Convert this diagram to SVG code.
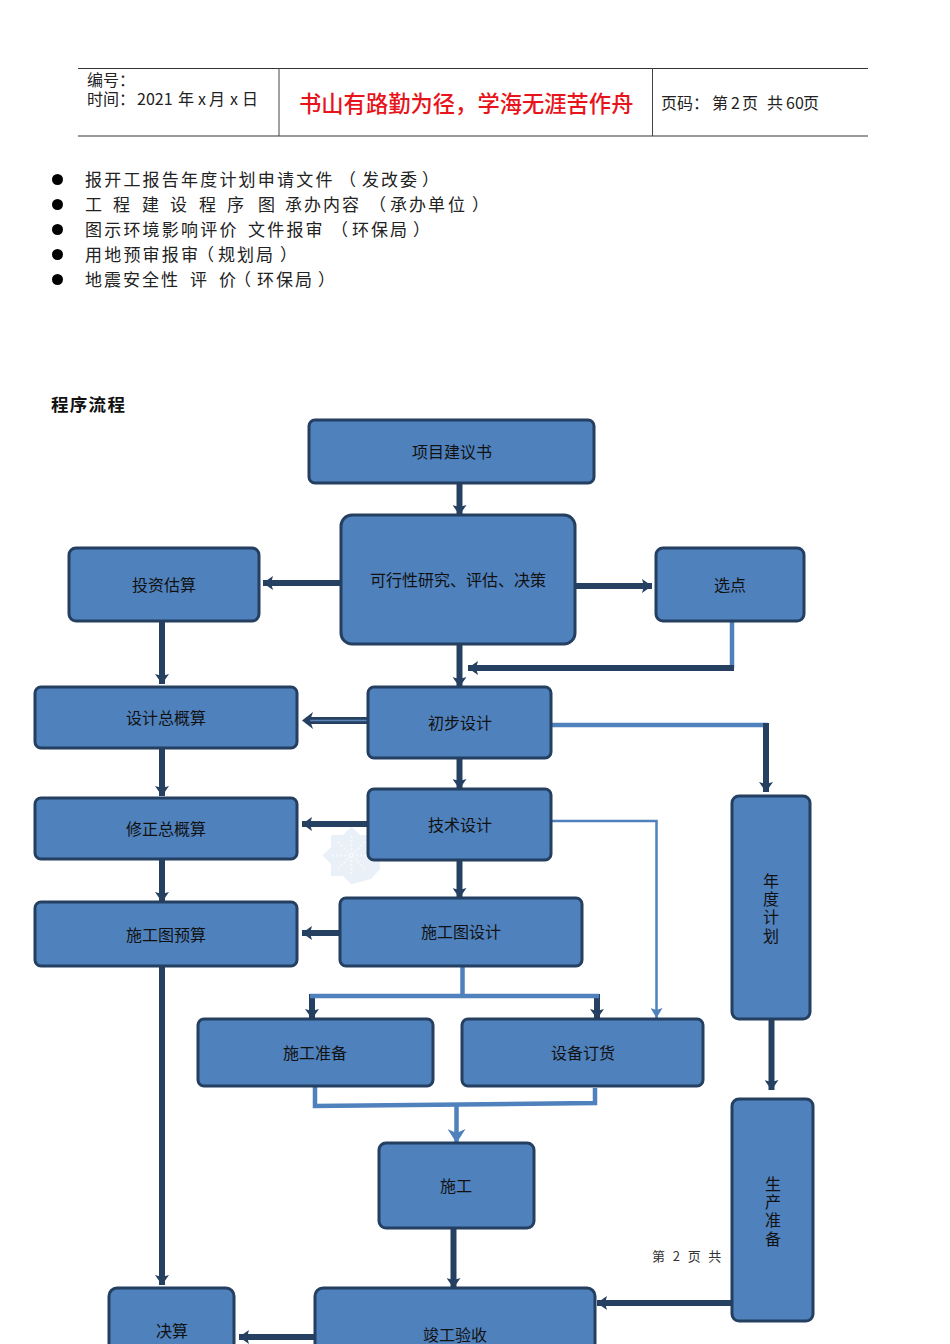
<svg xmlns="http://www.w3.org/2000/svg" width="950" height="1344" viewBox="0 0 950 1344">
<style>
text{font-family:"Noto Sans CJK SC","Liberation Sans",sans-serif;fill:#111}
.n{fill:#4f81bd;stroke:#243f60;stroke-width:3}
.l{font-size:16px;text-anchor:middle}
.b{font-size:17px;letter-spacing:2.2px;fill:#222}
.p{font-size:17px;fill:#222}
.h{font-size:16px;fill:#222}
.d{fill:none;stroke:#254061;stroke-width:6}
.u{fill:none;stroke:#4f81bd;stroke-width:4.500}
.t{fill:none;stroke:#4f81bd;stroke-width:2.500}
</style>
<defs>
<marker id="ad" markerUnits="userSpaceOnUse" markerWidth="12" markerHeight="14" refX="10" refY="7" orient="auto"><path d="M0 0L10 7L0 14L2 7Z" fill="#254061"/></marker>
<marker id="al" markerUnits="userSpaceOnUse" markerWidth="12" markerHeight="12" refX="10" refY="6" orient="auto"><path d="M0 0L10 6L0 12L2 6Z" fill="#4f81bd"/></marker>
<marker id="ab" markerUnits="userSpaceOnUse" markerWidth="16" markerHeight="18" refX="14" refY="9" orient="auto"><path d="M0 0L14 9L0 18L4 9Z" fill="#4f81bd"/></marker>
</defs>
<rect width="950" height="1344" fill="#fff"/>
<g id="header">
<path d="M78 68.500H868" stroke="#333" fill="none"/>
<path d="M78 136H868" stroke="#777" stroke-width="1.500" fill="none"/>
<path d="M279 68V136M652.500 68V136" stroke="#444" fill="none"/>
<text class="h"><tspan x="87" y="85.500">编号：</tspan><tspan x="87" y="104.500">时间：</tspan><tspan x="137" y="104.500">2021</tspan><tspan x="178" y="104.500">年</tspan><tspan x="198" y="104.500">x</tspan><tspan x="209" y="104.500">月</tspan><tspan x="230" y="104.500">x</tspan><tspan x="242" y="104.500">日</tspan></text>
<text x="299" y="112" font-size="22.300" font-weight="500" style="fill:#e8141c">书山有路勤为径，学海无涯苦作舟</text>
<text class="h" x="661" y="109">页码：</text><text class="h" x="712" y="109">第</text><text class="h" x="731" y="109" font-size="13">2</text><text class="h" x="742" y="109">页</text><text class="h" x="767" y="109">共</text><text class="h" x="786" y="109" font-size="13">60</text><text class="h" x="803" y="109">页</text>
</g>
<g id="bullets">
<circle cx="57.500" cy="179.500" r="5.500"/><circle cx="57.500" cy="204.500" r="5.500"/><circle cx="57.500" cy="229.500" r="5.500"/><circle cx="57.500" cy="254.500" r="5.500"/><circle cx="57.500" cy="279.500" r="5.500"/>
<text class="b" x="85" y="186">报开工报告年度计划申请文件</text><text class="p" x="339 362 381 400 422" y="186">（发改委）</text>
<text class="p" x="85 113 142 170 199 227 258 285 304 323 342 369 390 409 428 448 472" y="211">工程建设程序图承办内容（承办单位）</text>
<text class="b" x="85" y="236">图示环境影响评价</text><text class="b" x="248" y="236">文件报审</text><text class="p" x="331 352 371 390 413" y="236">（环保局）</text>
<text class="b" x="85" y="261">用地预审报审</text><text class="p" x="197 218 237 256 280" y="261">（规划局）</text>
<text class="p" x="85 104 123 142 161 190 219 234 257 276 295 318" y="286">地震安全性评价（环保局）</text>
<text x="51" y="411" font-size="17.500" font-weight="700" style="letter-spacing:1.300px">程序流程</text>
</g>
<g id="watermark"><g fill="#e9f0f7"><rect x="331" y="835" width="41" height="41"/><rect x="331" y="835" width="41" height="41" transform="rotate(45 351.500 855.500)"/><path d="M360 855H380V869L371 879L352 884L345 870Z"/></g><path d="M351.500 836V875M332 855.500H371M338 842L365 869M365 842L338 869" stroke="#f6f9fc" stroke-width="2" stroke-dasharray="2 2" fill="none"/></g>
<g id="connectors">
<path class="d" d="M459.500 483V515" marker-end="url(#ad)"/>
<path class="d" d="M340 583H263" marker-end="url(#ad)"/>
<path class="d" d="M576 586H652" marker-end="url(#ad)"/>
<path class="d" d="M162 622V684" marker-end="url(#ad)"/>
<path class="u" d="M732 622V668"/>
<path class="d" d="M734 668H468" marker-end="url(#ad)"/>
<path class="d" d="M459.500 644V687" marker-end="url(#ad)"/>
<path d="M368 720.500H306" stroke="#254061" stroke-width="7" fill="none"/><path d="M368 720.500H310" stroke="#5b85b8" stroke-width="1.500" fill="none"/>
<path d="M313 712L302 720.500L313 729L310 720.500Z" fill="#254061"/>
<path class="u" d="M552 725H768"/>
<path class="d" d="M766 723V792" marker-end="url(#ad)"/>
<path class="d" d="M459.500 758V789" marker-end="url(#ad)"/>
<path class="d" d="M162 748V796" marker-end="url(#ad)"/>
<path class="d" d="M368 824H302" marker-end="url(#ad)"/>
<path class="t" d="M552 821H656.500V1018" marker-end="url(#al)"/>
<path class="d" d="M459.500 860V898" marker-end="url(#ad)"/>
<path class="d" d="M162 860V902" marker-end="url(#ad)"/>
<path class="d" d="M340 933H302" marker-end="url(#ad)"/>
<path class="d" d="M162 967V1285" marker-end="url(#ad)"/>
<path class="d" d="M312 994V1019" marker-end="url(#ad)"/>
<path class="d" d="M597 994V1019" marker-end="url(#ad)"/>
<path class="u" d="M462.500 966V996M310 996H599"/>
<path class="u" d="M315 1086V1106L595 1103V1088"/>
<path class="u" d="M456.500 1105V1143" marker-end="url(#ab)"/>
<path class="d" d="M771.500 1019V1090" marker-end="url(#ad)"/>
<path class="d" d="M453.500 1228V1288" marker-end="url(#ad)"/>
<path class="d" d="M731 1303H597" marker-end="url(#ad)"/>
<path class="d" d="M315 1337H239" marker-end="url(#ad)"/>
</g>
<g id="n1"><rect class="n" x="309" y="420" width="285" height="63" rx="6"/><text class="l" x="452" y="458">项目建议书</text></g>
<g id="n2"><rect class="n" x="341" y="515" width="234" height="129" rx="11"/><text class="l" x="458" y="586">可行性研究、评估、决策</text></g>
<g id="n3"><rect class="n" x="69" y="548" width="190" height="73" rx="7"/><text class="l" x="164" y="591">投资估算</text></g>
<g id="n4"><rect class="n" x="656" y="548" width="148" height="73" rx="7"/><text class="l" x="730" y="591">选点</text></g>
<g id="n5"><rect class="n" x="35" y="687" width="262" height="61" rx="6"/><text class="l" x="166" y="724">设计总概算</text></g>
<g id="n6"><rect class="n" x="368" y="687" width="183" height="71" rx="6"/><text class="l" x="460" y="729">初步设计</text></g>
<g id="n7"><rect class="n" x="35" y="798" width="262" height="61" rx="6"/><text class="l" x="166" y="835">修正总概算</text></g>
<g id="n8"><rect class="n" x="368" y="789" width="183" height="71" rx="6"/><text class="l" x="460" y="831">技术设计</text></g>
<g id="n9"><rect class="n" x="35" y="902" width="262" height="64" rx="6"/><text class="l" x="166" y="941">施工图预算</text></g>
<g id="n10"><rect class="n" x="340" y="898" width="242" height="68" rx="6"/><text class="l" x="461" y="938">施工图设计</text></g>
<g id="n11"><rect class="n" x="198" y="1019" width="235" height="67" rx="6"/><text class="l" x="315" y="1059">施工准备</text></g>
<g id="n12"><rect class="n" x="462" y="1019" width="241" height="67" rx="6"/><text class="l" x="583" y="1059">设备订货</text></g>
<g id="n13"><rect class="n" x="379" y="1143" width="155" height="85" rx="7"/><text class="l" x="456" y="1192">施工</text></g>
<g id="n14"><rect class="n" x="732" y="796" width="78" height="223" rx="7"/><text class="l" x="771 771 771 771" y="887 905 923 942">年度计划</text></g>
<g id="n15"><rect class="n" x="732" y="1099" width="81" height="222" rx="7"/><text class="l" x="773 773 773 773" y="1190 1208 1226 1245">生产准备</text></g>
<g id="n16"><rect class="n" x="109" y="1288" width="125" height="70" rx="8"/><text class="l" x="172" y="1337">决算</text></g>
<g id="n17"><rect class="n" x="315" y="1288" width="280" height="70" rx="8"/><text class="l" x="455" y="1341">竣工验收</text></g>
<text id="footer" x="652" y="1261" font-size="13" style="fill:#333;letter-spacing:2.400px" xml:space="preserve">第 2 页 共</text>
</svg>
